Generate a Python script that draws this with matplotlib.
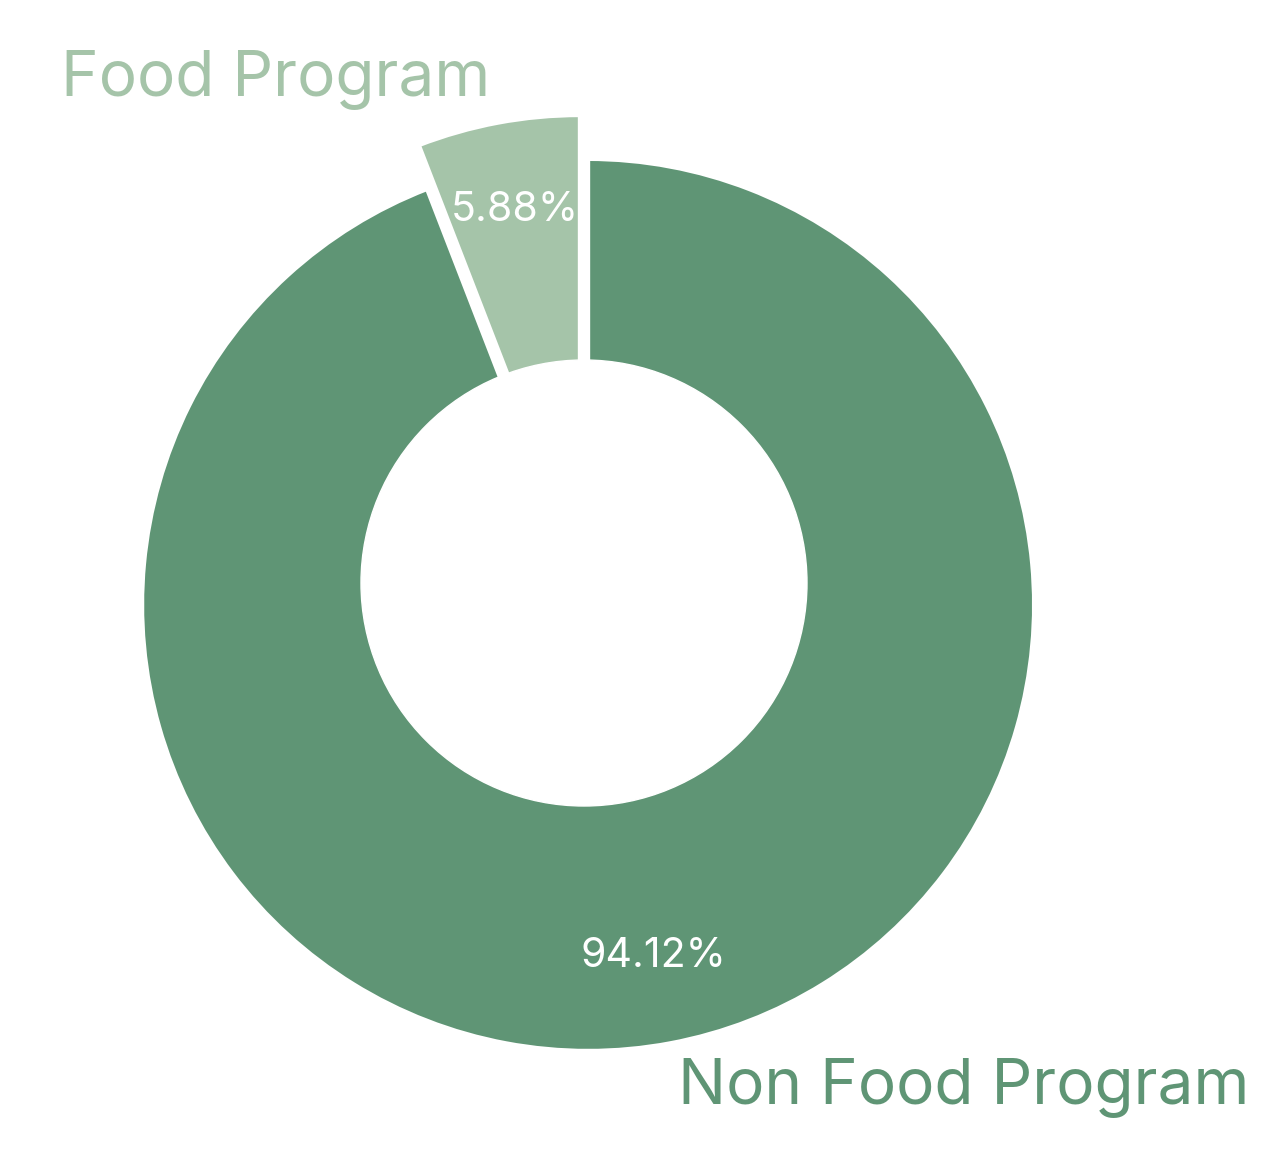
import matplotlib.pyplot as plt
from matplotlib.patches import Circle

plt.rcParams['font.family'] = ['Inter', 'DejaVu Sans']

labels = ['Food Program', 'Non Food Program']
shares = [5.88, 94.12]
colors = ['#a5c4a9', '#5f9575']
explode = [0.05, 0.05]

W, H, DPI = 1279, 1168, 100
R = 446.0          # pie radius in pixels
cx, cy = 584, 583  # pie centre in pixels (from top-left)

fig = plt.figure(figsize=(W / DPI, H / DPI), dpi=DPI)
ax = fig.add_axes([0, 0, 1, 1])

wedges, texts, autotexts = ax.pie(
    shares, labels=labels, colors=colors, explode=explode,
    startangle=90, counterclock=True, autopct='%.2f%%',
    pctdistance=0.8, labeldistance=1.1,
    wedgeprops=dict(edgecolor='white', linewidth=3),
)
for t, c in zip(texts, colors):
    t.set_color(c)
    t.set_fontsize(46)
for t in autotexts:
    t.set_color('white')
    t.set_fontsize(29.5)

# donut hole
ax.add_patch(Circle((0, 0), 0.5, color='white', zorder=5))

ax.set_xlim(-cx / R, (W - cx) / R)
ax.set_ylim(-(H - cy) / R, cy / R)
ax.axis('off')

fig.savefig('out.png', dpi=DPI)
